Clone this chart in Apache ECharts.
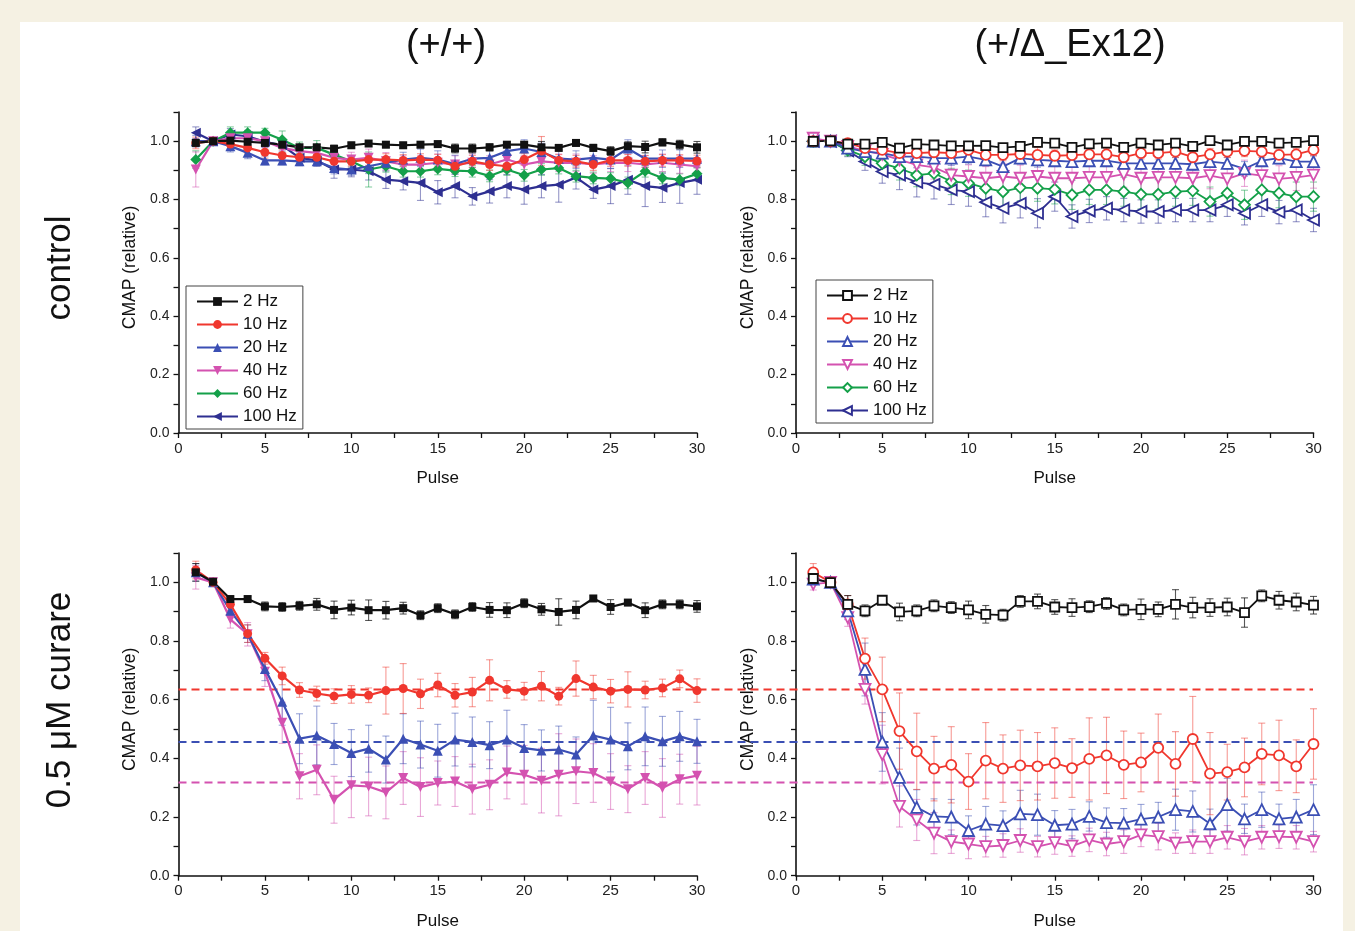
<!DOCTYPE html>
<html>
<head>
<meta charset="utf-8">
<title>CMAP</title>
<script src="https://cdn.jsdelivr.net/npm/echarts@6/dist/echarts.min.js"></script>
<style>
  html, body { margin: 0; padding: 0; background: #f5f1e3; }
  #chart { width: 1355px; height: 931px; }
</style>
</head>
<body>
<div id="chart"></div>
<script>
// pulse numbers (x values)
const pulses = [1,2,3,4,5,6,7,8,9,10,11,12,13,14,15,16,17,18,19,20,21,22,23,24,25,26,27,28,29,30];
const freqNames = ['2 Hz', '10 Hz', '20 Hz', '40 Hz', '60 Hz', '100 Hz'];
const yTicks = ['0.0', '0.2', '0.4', '0.6', '0.8', '1.0'];
const xTicks = ['0', '5', '10', '15', '20', '25', '30'];

// (+/+) control
const wt2   = [0.994,1.0,1.002,0.998,0.994,0.988,0.979,0.979,0.974,0.986,0.992,0.988,0.986,0.988,0.99,0.975,0.975,0.979,0.988,0.988,0.979,0.977,0.994,0.977,0.966,0.983,0.98,0.996,0.988,0.979];
const wt10  = [0.994,1.0,0.99,0.977,0.962,0.951,0.945,0.945,0.931,0.931,0.937,0.937,0.934,0.937,0.935,0.914,0.931,0.92,0.914,0.937,0.966,0.934,0.931,0.92,0.934,0.934,0.931,0.934,0.934,0.932];
const wt20  = [1.0,1.0,0.983,0.96,0.934,0.934,0.931,0.931,0.908,0.903,0.914,0.926,0.937,0.943,0.937,0.922,0.94,0.943,0.966,0.975,0.963,0.94,0.937,0.943,0.937,0.975,0.94,0.94,0.94,0.94];
const wt40  = [0.903,1.0,1.01,1.01,1.0,0.977,0.966,0.96,0.943,0.937,0.943,0.931,0.92,0.92,0.926,0.92,0.926,0.92,0.937,0.92,0.931,0.926,0.926,0.92,0.926,0.926,0.92,0.926,0.92,0.914];
const wt60  = [0.937,1.0,1.029,1.029,1.029,1.005,0.977,0.977,0.954,0.931,0.903,0.914,0.897,0.897,0.905,0.899,0.897,0.881,0.903,0.883,0.903,0.908,0.88,0.874,0.872,0.857,0.897,0.874,0.868,0.888];
const wt100 = [1.029,1.0,1.023,1.017,0.998,0.986,0.943,0.934,0.903,0.903,0.897,0.868,0.863,0.857,0.825,0.846,0.811,0.828,0.846,0.834,0.846,0.851,0.876,0.834,0.846,0.868,0.846,0.84,0.857,0.868];
const wt2e   = [0.01,0,0.01,0.015,0.01,0.01,0.01,0.01,0.012,0.01,0.01,0.01,0.01,0.01,0.01,0.015,0.015,0.012,0.01,0.01,0.02,0.01,0.01,0.012,0.015,0.015,0.02,0.012,0.015,0.02];
const wt10e  = [0.02,0,0.015,0.02,0.02,0.02,0.02,0.02,0.02,0.015,0.02,0.02,0.02,0.02,0.02,0.02,0.02,0.02,0.02,0.02,0.05,0.02,0.02,0.02,0.02,0.02,0.02,0.02,0.02,0.02];
const wt20e  = [0.02,0,0.02,0.02,0.015,0.015,0.015,0.015,0.02,0.02,0.025,0.02,0.025,0.03,0.03,0.03,0.03,0.03,0.03,0.03,0.03,0.03,0.03,0.03,0.03,0.03,0.03,0.03,0.03,0.03];
const wt40e  = [0.06,0,0.02,0.02,0.02,0.02,0.02,0.02,0.025,0.025,0.03,0.03,0.03,0.03,0.03,0.03,0.03,0.03,0.03,0.03,0.03,0.03,0.03,0.03,0.03,0.03,0.03,0.03,0.03,0.03];
const wt60e  = [0.03,0,0.02,0.02,0.015,0.03,0.02,0.025,0.02,0.02,0.06,0.02,0.02,0.02,0.02,0.02,0.02,0.02,0.02,0.02,0.02,0.02,0.02,0.02,0.02,0.02,0.02,0.02,0.02,0.02];
const wt100e = [0.02,0,0.02,0.02,0.02,0.02,0.02,0.02,0.03,0.025,0.03,0.03,0.03,0.06,0.04,0.04,0.03,0.04,0.04,0.05,0.04,0.06,0.04,0.03,0.06,0.05,0.07,0.05,0.07,0.05];

// (+/Δ_Ex12) control
const ex2   = [0.999,1.001,0.99,0.99,0.996,0.976,0.99,0.987,0.984,0.984,0.985,0.978,0.982,0.996,0.993,0.979,0.991,0.993,0.979,0.993,0.987,0.993,0.982,1.002,0.987,0.999,0.999,0.993,0.996,1.002];
const ex10  = [1.0,1.0,0.993,0.976,0.97,0.959,0.959,0.962,0.959,0.97,0.953,0.953,0.956,0.953,0.95,0.952,0.955,0.955,0.945,0.959,0.959,0.964,0.945,0.955,0.964,0.967,0.964,0.953,0.955,0.97];
const ex20  = [1.0,1.0,0.976,0.964,0.959,0.947,0.947,0.942,0.942,0.947,0.936,0.913,0.942,0.936,0.933,0.93,0.933,0.933,0.924,0.924,0.924,0.924,0.921,0.93,0.924,0.905,0.933,0.942,0.93,0.93];
const ex40  = [1.01,1.0,0.982,0.967,0.955,0.936,0.919,0.91,0.884,0.879,0.873,0.879,0.873,0.879,0.873,0.873,0.876,0.876,0.887,0.873,0.876,0.876,0.873,0.882,0.871,0.89,0.882,0.871,0.876,0.884];
const ex60  = [1.0,1.0,0.97,0.947,0.924,0.907,0.884,0.89,0.862,0.856,0.839,0.827,0.841,0.839,0.835,0.816,0.833,0.833,0.827,0.818,0.818,0.827,0.83,0.793,0.822,0.782,0.833,0.822,0.81,0.81];
const ex100 = [1.0,1.0,0.967,0.93,0.896,0.884,0.859,0.852,0.833,0.827,0.791,0.77,0.787,0.753,0.81,0.742,0.761,0.77,0.764,0.759,0.759,0.764,0.764,0.764,0.782,0.753,0.782,0.757,0.764,0.73];
const ex2e   = [0.01,0,0.01,0.01,0.01,0.01,0.012,0.01,0.01,0.01,0.01,0.012,0.01,0.01,0.01,0.012,0.01,0.01,0.012,0.01,0.01,0.01,0.012,0.01,0.01,0.01,0.01,0.01,0.01,0.01];
const ex10e  = [0.015,0,0.01,0.015,0.015,0.015,0.015,0.02,0.02,0.02,0.02,0.02,0.02,0.025,0.02,0.02,0.02,0.02,0.02,0.02,0.02,0.02,0.02,0.02,0.02,0.02,0.02,0.02,0.02,0.02];
const ex20e  = [0.015,0,0.015,0.02,0.02,0.02,0.02,0.02,0.025,0.025,0.02,0.025,0.02,0.025,0.02,0.02,0.02,0.02,0.02,0.02,0.02,0.02,0.02,0.02,0.02,0.025,0.02,0.02,0.02,0.02];
const ex40e  = [0.02,0,0.02,0.03,0.03,0.035,0.035,0.04,0.04,0.04,0.04,0.045,0.045,0.045,0.045,0.045,0.045,0.045,0.045,0.045,0.045,0.045,0.045,0.045,0.045,0.045,0.045,0.045,0.045,0.045];
const ex60e  = [0.02,0,0.02,0.03,0.035,0.04,0.04,0.04,0.045,0.045,0.045,0.05,0.045,0.045,0.05,0.05,0.05,0.05,0.05,0.05,0.05,0.05,0.05,0.05,0.05,0.05,0.05,0.05,0.05,0.05];
const ex100e = [0.02,0,0.02,0.03,0.04,0.05,0.05,0.05,0.05,0.05,0.05,0.05,0.05,0.05,0.05,0.04,0.04,0.04,0.04,0.04,0.04,0.04,0.04,0.04,0.04,0.04,0.04,0.04,0.04,0.04];

// (+/+) 0.5 µM curare
const wc2  = [1.034,1.002,0.943,0.943,0.918,0.916,0.92,0.925,0.906,0.914,0.905,0.905,0.912,0.888,0.912,0.891,0.916,0.906,0.905,0.929,0.908,0.899,0.906,0.945,0.916,0.931,0.905,0.925,0.925,0.918];
const wc10 = [1.042,1.0,0.925,0.825,0.741,0.681,0.633,0.621,0.612,0.618,0.615,0.631,0.638,0.62,0.65,0.615,0.626,0.666,0.635,0.629,0.646,0.612,0.672,0.643,0.629,0.635,0.633,0.64,0.671,0.631];
const wc20 = [1.034,1.0,0.903,0.825,0.705,0.593,0.467,0.478,0.449,0.418,0.433,0.396,0.467,0.447,0.426,0.464,0.456,0.445,0.464,0.435,0.427,0.43,0.413,0.478,0.464,0.441,0.475,0.458,0.475,0.458];
const wc40 = [1.017,1.0,0.874,0.823,0.695,0.521,0.339,0.361,0.259,0.308,0.304,0.284,0.333,0.302,0.316,0.321,0.295,0.31,0.352,0.344,0.324,0.344,0.356,0.35,0.321,0.295,0.333,0.299,0.329,0.341];
const wc2e  = [0.03,0,0.01,0.01,0.015,0.015,0.015,0.02,0.03,0.025,0.035,0.03,0.02,0.015,0.015,0.015,0.015,0.025,0.025,0.015,0.02,0.045,0.03,0.01,0.025,0.01,0.025,0.015,0.015,0.02];
const wc10e = [0.03,0,0.02,0.03,0.02,0.03,0.025,0.025,0.025,0.03,0.025,0.08,0.085,0.05,0.04,0.04,0.05,0.07,0.03,0.03,0.05,0.03,0.06,0.04,0.04,0.06,0.03,0.03,0.03,0.04];
const wc20e = [0.03,0,0.02,0.03,0.04,0.08,0.085,0.1,0.07,0.08,0.08,0.08,0.085,0.08,0.09,0.09,0.085,0.08,0.1,0.08,0.07,0.08,0.06,0.12,0.11,0.08,0.1,0.085,0.085,0.075];
const wc40e = [0.04,0,0.03,0.04,0.05,0.07,0.077,0.085,0.08,0.11,0.1,0.09,0.09,0.1,0.075,0.085,0.085,0.085,0.09,0.1,0.11,0.14,0.11,0.1,0.095,0.08,0.09,0.1,0.085,0.1];

// (+/Δ_Ex12) 0.5 µM curare
const xc2  = [1.013,0.999,0.925,0.903,0.939,0.899,0.903,0.92,0.914,0.906,0.891,0.888,0.935,0.935,0.916,0.914,0.917,0.928,0.906,0.908,0.908,0.925,0.914,0.914,0.916,0.897,0.954,0.939,0.933,0.922];
const xc10 = [1.034,1.0,0.925,0.74,0.635,0.493,0.424,0.365,0.378,0.321,0.392,0.365,0.376,0.373,0.384,0.367,0.398,0.41,0.378,0.386,0.436,0.381,0.466,0.348,0.353,0.369,0.415,0.41,0.373,0.449];
const xc20 = [1.011,1.0,0.903,0.703,0.456,0.335,0.233,0.202,0.2,0.154,0.176,0.171,0.211,0.208,0.172,0.176,0.202,0.181,0.179,0.193,0.2,0.225,0.219,0.177,0.242,0.194,0.225,0.194,0.2,0.225];
const xc40 = [0.994,1.0,0.88,0.635,0.413,0.236,0.19,0.145,0.116,0.108,0.099,0.103,0.12,0.099,0.113,0.101,0.122,0.108,0.116,0.139,0.133,0.111,0.116,0.116,0.131,0.116,0.131,0.133,0.131,0.116];
const xc2e  = [0.02,0,0.03,0.02,0.01,0.03,0.02,0.02,0.02,0.03,0.03,0.02,0.02,0.025,0.025,0.03,0.02,0.02,0.02,0.035,0.025,0.05,0.035,0.03,0.03,0.05,0.02,0.03,0.03,0.03];
const xc10e = [0.03,0,0.03,0.07,0.11,0.13,0.13,0.11,0.13,0.095,0.13,0.115,0.12,0.115,0.12,0.1,0.14,0.13,0.115,0.1,0.115,0.11,0.145,0.14,0.095,0.1,0.105,0.12,0.09,0.12];
const xc20e = [0.02,0,0.03,0.09,0.1,0.1,0.06,0.06,0.06,0.05,0.06,0.05,0.08,0.07,0.05,0.05,0.05,0.05,0.05,0.05,0.05,0.07,0.07,0.05,0.09,0.05,0.06,0.05,0.06,0.085];
const xc40e = [0.02,0,0.03,0.05,0.1,0.07,0.07,0.07,0.04,0.05,0.035,0.04,0.04,0.035,0.04,0.035,0.04,0.04,0.04,0.04,0.045,0.035,0.04,0.04,0.04,0.045,0.04,0.04,0.04,0.035];

// horizontal dashed reference levels (curare)
const refLevels = [0.635, 0.456, 0.318];
const refColors = ['#f0372e', '#3b4fb4', '#d452b0'];

let colors = {
    '2 Hz': '#111111',
    '10 Hz': '#f0372e',
    '20 Hz': '#3b4fb4',
    '40 Hz': '#d452b0',
    '60 Hz': '#14a049',
    '100 Hz': '#2e2f91'
};
let errColors = {
    '2 Hz': 'rgba(17,17,17,0.7)',
    '10 Hz': 'rgba(240,55,46,0.5)',
    '20 Hz': 'rgba(59,79,180,0.5)',
    '40 Hz': 'rgba(212,82,176,0.5)',
    '60 Hz': 'rgba(20,160,73,0.5)',
    '100 Hz': 'rgba(46,47,145,0.5)'
};
// symbol, rotation, size (filled / open)
let marks = {
    '2 Hz':   ['rect', 0, 8, 9],
    '10 Hz':  ['circle', 0, 9, 10],
    '20 Hz':  ['triangle', 0, 10, 11],
    '40 Hz':  ['triangle', 180, 10, 11],
    '60 Hz':  ['diamond', 0, 11, 11],
    '100 Hz': ['triangle', 90, 10, 11]
};

let panels = [
    { key: 'wt', filled: true,  grid: { left: 178.5, top: 112, width: 518.5, height: 321 },
      lines: [wt2, wt10, wt20, wt40, wt60, wt100], errs: [wt2e, wt10e, wt20e, wt40e, wt60e, wt100e] },
    { key: 'ex', filled: false, grid: { left: 796, top: 112, width: 517.5, height: 321 },
      lines: [ex2, ex10, ex20, ex40, ex60, ex100], errs: [ex2e, ex10e, ex20e, ex40e, ex60e, ex100e] },
    { key: 'wc', filled: true,  grid: { left: 178.5, top: 553, width: 518.5, height: 322.7 },
      lines: [wc2, wc10, wc20, wc40], errs: [wc2e, wc10e, wc20e, wc40e] },
    { key: 'xc', filled: false, grid: { left: 796, top: 553, width: 517.5, height: 322.7 },
      lines: [xc2, xc10, xc20, xc40], errs: [xc2e, xc10e, xc20e, xc40e] }
];

const FONT = '"Liberation Sans", Arial, sans-serif';

let xAxisOf = i => ({
    type: 'value', gridIndex: i, min: 0, max: 30, interval: 2.5,
    name: 'Pulse', nameLocation: 'middle', nameGap: 37,
    nameTextStyle: { fontFamily: FONT, fontSize: 17, color: '#111' },
    axisLine: { show: true, onZero: false, lineStyle: { color: '#111', width: 1.6 } },
    axisTick: { show: true, inside: false, length: 5, lineStyle: { color: '#111', width: 1.3 } },
    axisLabel: {
        margin: 8, fontFamily: FONT, fontSize: 15, color: '#222',
        formatter: v => (Math.abs(v % 5) < 1e-6 ? xTicks[Math.round(v / 5)] : '')
    },
    splitLine: { show: false }
});

let yAxisOf = i => ({
    type: 'value', gridIndex: i, min: 0, max: 1.1, interval: 0.1,
    name: 'CMAP (relative)', nameLocation: 'middle', nameGap: 39,
    nameTextStyle: { fontFamily: FONT, fontSize: 17.5, color: '#111', padding: [0, 0, 0, 10] },
    axisLine: { show: true, onZero: false, lineStyle: { color: '#111', width: 1.6 } },
    axisTick: { show: true, inside: false, length: 5, lineStyle: { color: '#111', width: 1.3 } },
    axisLabel: {
        margin: 9, fontFamily: FONT, fontSize: 14, color: '#222',
        formatter: v => {
            let k = Math.round(v * 10);
            return (k % 2 === 0 && k <= 10) ? yTicks[k / 2] : '';
        }
    },
    splitLine: { show: false }
});

let renderErr = (params, api) => {
    let x = api.value(0), v = api.value(1), e = api.value(2);
    if (!e) return null;
    let top = api.coord([x, v + e]);
    let bot = api.coord([x, v - e]);
    let c = api.visual('color');
    let w = 3.5;
    let st = { stroke: c, lineWidth: 1.1 };
    return {
        type: 'group',
        children: [
            { type: 'line', shape: { x1: top[0], y1: top[1], x2: bot[0], y2: bot[1] }, style: st },
            { type: 'line', shape: { x1: top[0] - w, y1: top[1], x2: top[0] + w, y2: top[1] }, style: st },
            { type: 'line', shape: { x1: bot[0] - w, y1: bot[1], x2: bot[0] + w, y2: bot[1] }, style: st }
        ]
    };
};

let series = [];
panels.forEach((p, gi) => {
    // draw high frequencies first so 2 Hz ends on top
    for (let k = p.lines.length - 1; k >= 0; k--) {
        let f = freqNames[k];
        let m = marks[f];
        series.push({
            name: p.key + 'E|' + f,
            type: 'custom',
            xAxisIndex: gi, yAxisIndex: gi,
            renderItem: renderErr,
            itemStyle: { color: errColors[f] },
            encode: { x: 0, y: 1 },
            data: pulses.map((x, i) => [x, p.lines[k][i], p.errs[k][i]]),
            z: 1,
            silent: true
        });
        series.push({
            name: p.key + '|' + f,
            type: 'line',
            xAxisIndex: gi, yAxisIndex: gi,
            data: pulses.map((x, i) => [x, p.lines[k][i]]),
            symbol: m[0],
            symbolRotate: m[1],
            symbolSize: p.filled ? m[2] : m[3],
            showAllSymbol: true,
            lineStyle: { color: colors[f], width: p.filled ? 2.2 : 1.8 },
            itemStyle: p.filled
                ? { color: colors[f] }
                : { color: '#ffffff', borderColor: colors[f], borderWidth: 1.8 },
            z: 3
        });
    }
});

// dashed reference lines spanning both curare panels
refLevels.forEach((lv, i) => {
    series.push({
        name: 'ref' + i,
        type: 'line',
        xAxisIndex: 4, yAxisIndex: 4,
        data: [[0, lv], [1, lv]],
        symbol: 'none',
        lineStyle: { color: refColors[i], width: 2, type: [8, 5] },
        z: 2,
        silent: true
    });
});

let legendOf = (key, left, top) => ({
    orient: 'vertical', left: left, top: top,
    data: freqNames.map(f => key + '|' + f),
    formatter: n => n.split('|')[1],
    selectedMode: false,
    borderColor: '#444', borderWidth: 1,
    padding: [7, 6, 4, 10],
    itemGap: 6, itemWidth: 41, itemHeight: 11,
    textStyle: { fontFamily: FONT, fontSize: 17, color: '#111', lineHeight: 17 }
});

let option = {
    backgroundColor: '#f5f1e3',
    animation: false,
    grid: panels.map(p => p.grid).concat([{ left: 178.5, top: 553, width: 1134.5, height: 322.7 }]),
    xAxis: panels.map((p, i) => xAxisOf(i)).concat([{ type: 'value', gridIndex: 4, min: 0, max: 1, show: false }]),
    yAxis: panels.map((p, i) => yAxisOf(i)).concat([{ type: 'value', gridIndex: 4, min: 0, max: 1.1, show: false }]),
    legend: [legendOf('wt', 186, 286), legendOf('ex', 816, 280)],
    graphic: [
        { type: 'rect', z: -10, silent: true, shape: { x: 20, y: 22, width: 1323, height: 920 }, style: { fill: '#ffffff' } },
        { type: 'text', x: 446, y: 46, style: { text: '(+/+)', fontFamily: FONT, fontSize: 38, fill: '#111', align: 'center', verticalAlign: 'middle' } },
        { type: 'text', x: 1070, y: 46, style: { text: '(+/Δ_Ex12)', fontFamily: FONT, fontSize: 38, fill: '#111', align: 'center', verticalAlign: 'middle' } },
        { type: 'text', x: 60, y: 268, rotation: Math.PI / 2, style: { text: 'control', fontFamily: FONT, fontSize: 35, fill: '#111', align: 'center', verticalAlign: 'middle' } },
        { type: 'text', x: 60, y: 700, rotation: Math.PI / 2, style: { text: '0.5 μM curare', fontFamily: FONT, fontSize: 35, fill: '#111', align: 'center', verticalAlign: 'middle' } }
    ],
    series: series
};

let myChart = echarts.init(document.getElementById('chart'));
myChart.setOption(option);
</script>
</body>
</html>
